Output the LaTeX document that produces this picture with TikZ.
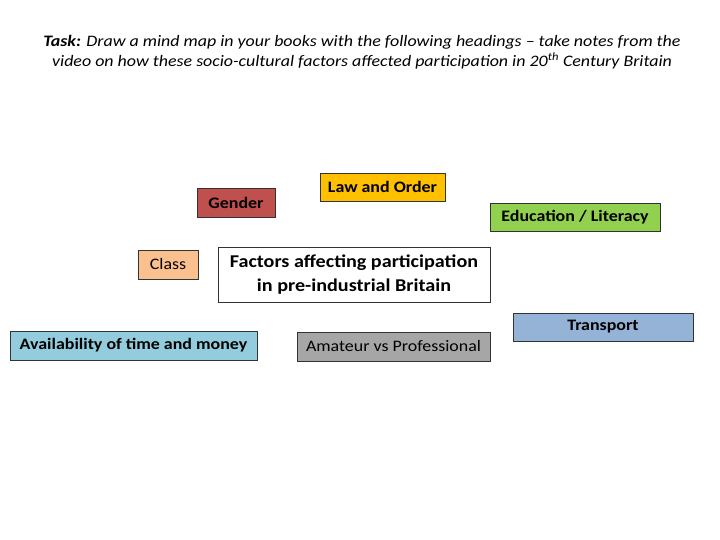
\documentclass[tikz,border=0pt]{standalone}
\usepackage{fontspec}
\setmainfont{Carlito}[FakeStretch=1.12]
\definecolor{cgender}{HTML}{C0504D}
\definecolor{claw}{HTML}{FFC000}
\definecolor{cedu}{HTML}{92D050}
\definecolor{cclass}{HTML}{FAC090}
\definecolor{ctrans}{HTML}{95B3D7}
\definecolor{cavail}{HTML}{93CDDD}
\definecolor{camat}{HTML}{A6A6A6}
\tikzset{
  hbox/.style={draw=black!80, line width=0.8pt, inner sep=0pt, font=\fontsize{16}{18}\selectfont\bfseries},
}
\begin{document}
\begin{tikzpicture}[x=1pt,y=-1pt]
\useasboundingbox (0,0) rectangle (720,540);
\node[align=center, font=\fontsize{16}{20}\selectfont\itshape] (title) at (362,52)
  {\textbf{Task:} Draw a mind map in your books with the following headings -- take notes from the\\
   video on how these socio-cultural factors affected participation in 20\textsuperscript{th} Century Britain};
\node[hbox, fill=cgender, minimum width=78pt, minimum height=29pt] (gender) at (236,202.5) {Gender};
\node[hbox, fill=claw, minimum width=125pt, minimum height=28pt] (law) at (382.5,187) {Law and Order};
\node[hbox, fill=cedu, minimum width=170pt, minimum height=28pt] (edu) at (575,217) {Education / Literacy};
\node[hbox, fill=cclass, minimum width=60pt, minimum height=29pt, font=\fontsize{16}{18}\selectfont] (class) at (168,264.5) {Class};
\node[hbox, fill=white, minimum width=272pt, minimum height=55pt, align=center, font=\fontsize{18}{24}\selectfont\bfseries] (center) at (354,274.5) {Factors affecting participation\\in pre-industrial Britain};
\node[hbox, fill=ctrans, minimum width=180pt, minimum height=28pt] (trans) at (603,327) {};
\node[font=\fontsize{16}{18}\selectfont\bfseries] (transl) at (603,327) {Transport};
\node[hbox, fill=cavail, minimum width=247pt, minimum height=29pt] (avail) at (133.5,345.5) {Availability of time and money};
\node[hbox, fill=camat, minimum width=193pt, minimum height=29pt, font=\fontsize{16}{18}\selectfont] (amat) at (393.5,346.5) {Amateur vs Professional};
\end{tikzpicture}
\end{document}
